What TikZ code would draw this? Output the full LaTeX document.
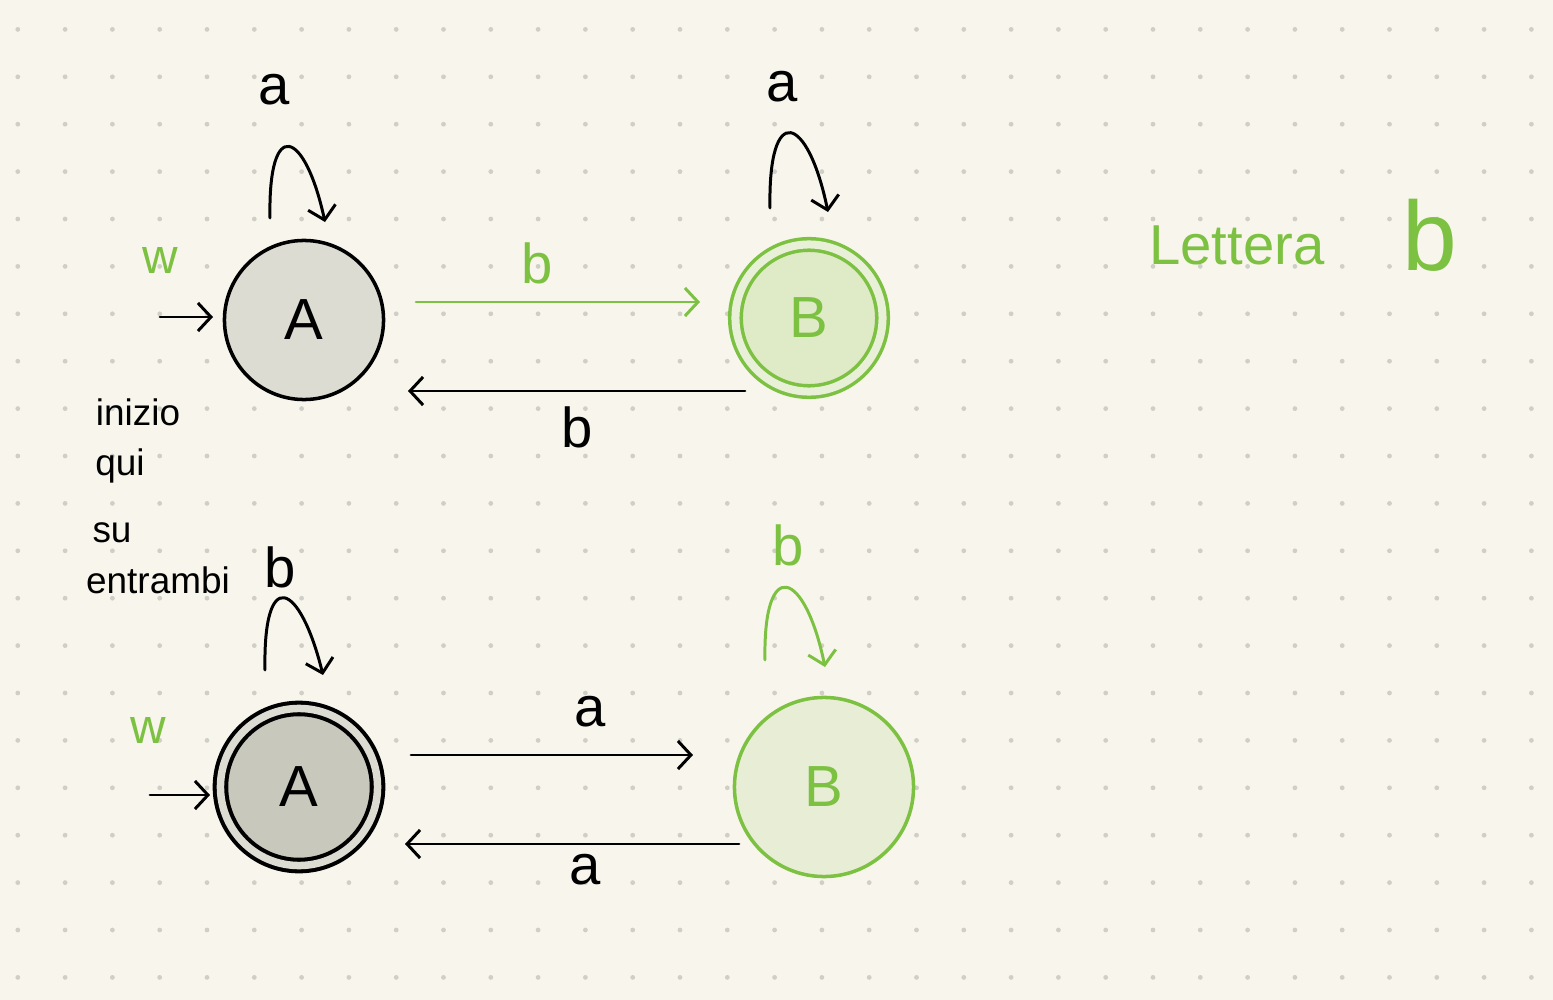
\documentclass[tikz,border=0pt]{standalone}
\usepackage{fontspec}
\setmainfont{Liberation Sans}
\usetikzlibrary{arrows.meta}
\definecolor{paper}{HTML}{F8F6EC}
\definecolor{dotgray}{HTML}{CFCFC8}
\definecolor{grn}{HTML}{7DC142}
\definecolor{stfill}{HTML}{DCDCD3}
\definecolor{stdark}{HTML}{C8C8BC}
\definecolor{gfill}{HTML}{DFEAC6}
\definecolor{gring}{HTML}{E9F0D8}
\definecolor{glight}{HTML}{E8EED6}

\begin{document}
\begin{tikzpicture}[x=0.01cm,y=-0.01cm,
  >={Straight Barb[length=0.13cm,width=0.28cm]},
  tr/.style={line width=0.85pt,line cap=round},
  st/.style={draw,circle,line width=1pt,inner sep=0pt,font=\fontsize{16.5}{18}\selectfont},
  lab/.style={inner sep=0pt,font=\fontsize{16}{18}\selectfont},
  hand/.style={inner sep=0pt,font=\fontsize{10.5}{12}\selectfont}]

% paper and dot grid
\fill[paper] (0,0) rectangle (1553,1000);
\useasboundingbox (0,0) rectangle (1553,1000);
\foreach \i in {0,...,32}
  \foreach \j in {0,...,20}
    \fill[dotgray] (17.8+\i*47.3,29.4+\j*47.4) circle (2.4);

% first automaton
\begin{scope}
\node[st,fill=stfill,minimum size=1.59cm](A1) at (304,320) {A};
\node[st,draw=grn,text=grn,fill=gfill,double=gring,double distance=0.08cm,minimum size=1.47cm](B1) at (809,318) {B};
\coordinate (in1) at (160,317);
\coordinate (A1s) at (270,218);
\coordinate (A1e) at (325,222);
\coordinate (B1s) at (770,208);
\coordinate (B1e) at (828,212);
\draw[tr,->] (in1) -- ([shift={(-91,-3)}]A1.center);
\draw[tr,->] (A1s) .. controls (268,115) and (305,130) .. (A1e);
\draw[tr,->] (B1s) .. controls (768,100) and (808,115) .. (B1e);
\draw[tr,->,grn] ([shift={(112,-18)}]A1.center) -- ([shift={(-109,-16)}]B1.center);
\draw[tr,->] ([shift={(-64,73)}]B1.center) -- ([shift={(104,71)}]A1.center);
\node[lab](la1) at (274,90) {a};
\node[lab](lb1) at (782,87) {a};
\node[lab,text=grn](lab1) at (537,263) {b};
\node[lab](lba1) at (577,427) {b};
\node[hand,text=grn,font=\fontsize{14}{16}\selectfont](w1) at (160,260) {w};
\end{scope}

% second automaton
\begin{scope}
\node[st,fill=stdark,double=stfill,double distance=0.075cm,line width=1.15pt,minimum size=1.57cm](A2) at (299,787) {A};
\node[st,draw=grn,text=grn,fill=glight,minimum size=1.79cm](B2) at (824,787) {B};
\coordinate (in2) at (150,795);
\coordinate (A2s) at (265,670);
\coordinate (A2e) at (323,675);
\coordinate (B2s) at (765,660);
\coordinate (B2e) at (825,667);
\draw[tr,->] (in2) -- ([shift={(-89,8)}]A2.center);
\draw[tr,->] (A2s) .. controls (263,565) and (300,582) .. (A2e);
\draw[tr,->,grn] (B2s) .. controls (763,555) and (805,570) .. (B2e);
\draw[tr,->] ([shift={(112,-32)}]A2.center) -- ([shift={(-131,-32)}]B2.center);
\draw[tr,->] ([shift={(-85,57)}]B2.center) -- ([shift={(106,57)}]A2.center);
\node[lab](la2) at (280,567) {b};
\node[lab,text=grn](lb2) at (788,545) {b};
\node[lab](lab2) at (590,712) {a};
\node[lab](lba2) at (585,870) {a};
\node[hand,text=grn,font=\fontsize{14}{16}\selectfont](w2) at (148,730) {w};
\end{scope}

% notes
\node[hand](n1) at (138,412) {inizio};
\node[hand](n2) at (120,466) {qui};
\node[hand](n3) at (112,533) {su};
\node[hand](n4) at (158,580) {entrambi};
\node[hand,text=grn,font=\fontsize{16}{18}\selectfont](t1) at (1237,245) {Lettera};
\node[hand,text=grn,font=\fontsize{28}{30}\selectfont](t2) at (1430,235) {b};

\end{tikzpicture}
\end{document}
